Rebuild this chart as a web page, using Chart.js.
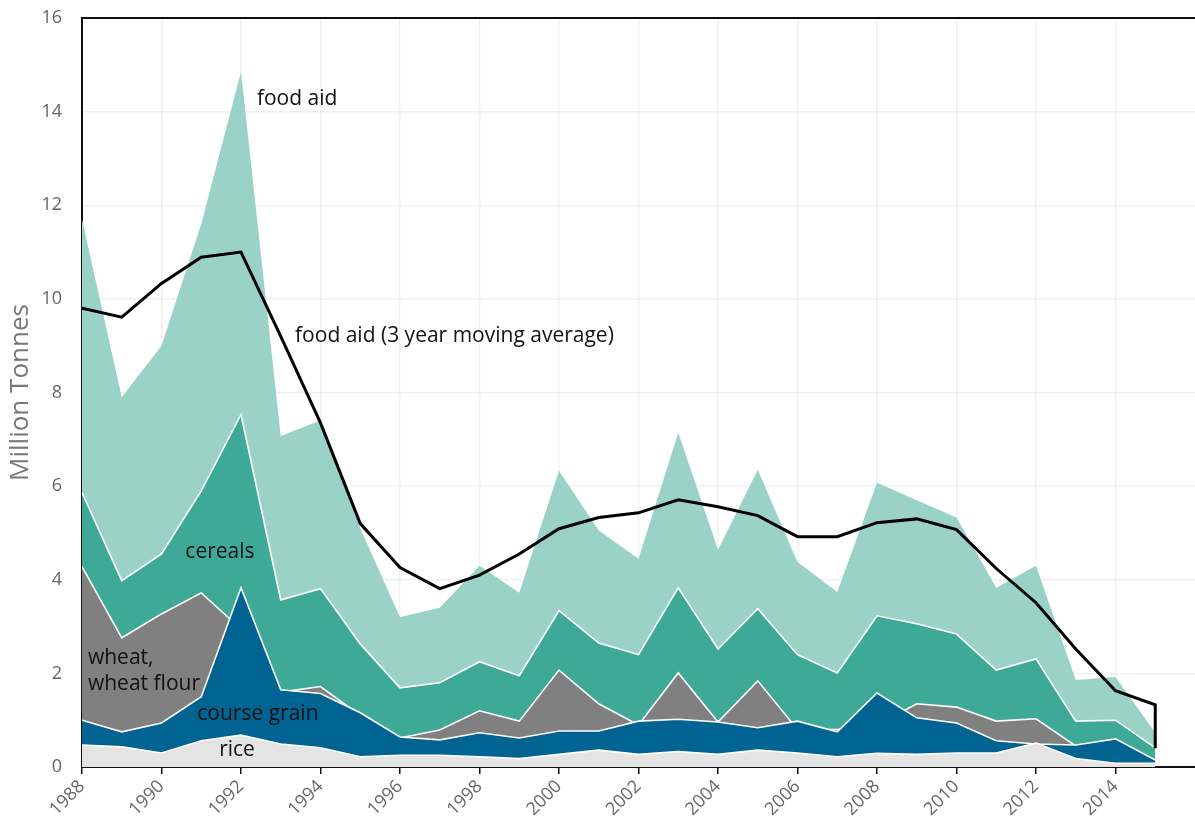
<!DOCTYPE html>
<html>
<head>
<meta charset="utf-8">
<script src="https://cdn.jsdelivr.net/npm/chart.js@4"></script>
<style>
  html, body { margin: 0; padding: 0; background: #fff; }
  #wrap { width: 1195px; height: 818px; }
</style>
</head>
<body>
<div id="wrap"><canvas id="c" width="1195" height="818"></canvas></div>
<script>
const years = [1988,1989,1990,1991,1992,1993,1994,1995,1996,1997,1998,1999,2000,2001,2002,2003,2004,2005,2006,2007,2008,2009,2010,2011,2012,2013,2014,2015];
const foodAid = [11.7,7.9,9.0,11.6,14.85,7.07,7.4,5.1,3.2,3.4,4.3,3.72,6.33,5.05,4.45,7.14,4.64,6.35,4.38,3.74,6.07,5.7,5.33,3.83,4.3,1.86,1.92,0.73];
const cereals = [5.86,3.98,4.55,5.9,7.53,3.57,3.81,2.63,1.69,1.8,2.25,1.95,3.34,2.65,2.4,3.83,2.52,3.38,2.4,2.01,3.23,3.06,2.84,2.07,2.31,0.98,1.0,0.41];
const wheat = [4.28,2.76,3.27,3.72,2.95,1.6,1.72,1.1,0.62,0.79,1.2,0.98,2.07,1.35,0.9,2.01,0.96,1.84,0.8,0.8,0.9,1.35,1.28,0.98,1.03,0.45,0.4,0.1];
const courseGrain = [1.0,0.75,0.94,1.5,3.83,1.65,1.57,1.16,0.64,0.58,0.73,0.62,0.77,0.77,0.98,1.02,0.96,0.84,0.98,0.75,1.58,1.05,0.94,0.56,0.49,0.47,0.6,0.15];
const rice = [0.47,0.43,0.3,0.56,0.68,0.49,0.41,0.22,0.25,0.25,0.22,0.18,0.27,0.36,0.27,0.33,0.27,0.36,0.3,0.22,0.29,0.27,0.3,0.3,0.51,0.18,0.08,0.08];
const movingAvg = [9.8,9.61,10.33,10.89,11.0,9.2,7.35,5.2,4.26,3.81,4.1,4.55,5.09,5.33,5.43,5.71,5.56,5.37,4.92,4.92,5.22,5.3,5.07,4.24,3.51,2.52,1.63,1.33];
const movingAvgEndYear = 2015;
const movingAvgEndValue = 0.4;
const xTickYears = [1988,1990,1992,1994,1996,1998,2000,2002,2004,2006,2008,2010,2012,2014];
const xTickLabels = ['1988','1990','1992','1994','1996','1998','2000','2002','2004','2006','2008','2010','2012','2014'];
const yTicks = [0,2,4,6,8,10,12,14,16];

const pts = arr => years.map((y, i) => ({x: y, y: arr[i]}));
const maPts = pts(movingAvg).concat([{x: movingAvgEndYear, y: movingAvgEndValue}]);

const labels = [
  {text: 'food aid', x: 1992.4, y: 14.27},
  {text: 'food aid (3 year moving average)', x: 1993.36, y: 9.2},
  {text: 'cereals', x: 1990.6, y: 4.6},
  {text: 'wheat,', x: 1988.15, y: 2.33},
  {text: 'wheat flour', x: 1988.15, y: 1.78},
  {text: 'course grain', x: 1990.9, y: 1.13},
  {text: 'rice', x: 1991.45, y: 0.36}
];

const FONT = '"Open Sans", "Noto Sans", sans-serif';

const annot = {
  id: 'annot',
  afterDatasetsDraw(chart) {
    const {ctx, scales: {x, y}} = chart;
    ctx.save();
    ctx.font = '21px ' + FONT;
    ctx.fillStyle = '#111';
    ctx.textAlign = 'left';
    ctx.textBaseline = 'middle';
    labels.forEach(l => ctx.fillText(l.text, x.getPixelForValue(l.x), y.getPixelForValue(l.y)));
    ctx.restore();
  },
  afterDraw(chart) {
    const {ctx, chartArea} = chart;
    ctx.save();
    ctx.strokeStyle = '#111';
    ctx.lineWidth = 2;
    ctx.beginPath();
    ctx.moveTo(chartArea.left - 1, chartArea.top);
    ctx.lineTo(chartArea.right, chartArea.top);
    ctx.stroke();
    ctx.restore();
  }
};

const area = (label, data, color, order, border) => ({
  label, data: pts(data), backgroundColor: color, fill: 'origin',
  borderColor: border ? '#ffffff' : color, borderWidth: border ? 1.6 : 0,
  pointRadius: 0, tension: 0, order
});

new Chart(document.getElementById('c'), {
  type: 'line',
  data: {
    datasets: [
      {label: 'food aid (3 year moving average)', data: maPts, borderColor: '#000', borderWidth: 3,
       fill: false, pointRadius: 0, tension: 0, order: 0, borderJoinStyle: 'miter'},
      area('rice', rice, '#e4e4e4', 1, true),
      area('course grain', courseGrain, '#006391', 2, true),
      area('wheat, wheat flour', wheat, '#808080', 3, true),
      area('cereals', cereals, '#3fa998', 4, true),
      area('food aid', foodAid, '#9bd2c8', 5, false)
    ]
  },
  options: {
    responsive: false,
    animation: false,
    events: [],
    layout: {padding: {top: 18, right: 0, left: 0, bottom: 0}},
    plugins: {legend: {display: false}, tooltip: {enabled: false}},
    scales: {
      x: {
        type: 'linear', min: 1988, max: 2016, z: 1,
        afterBuildTicks: s => { s.ticks = xTickYears.map(v => ({value: v})); },
        afterFit: s => { s.height = 51; s.paddingLeft = 0; s.paddingRight = 0; },
        ticks: {
          callback: (v) => xTickLabels[xTickYears.indexOf(v)],
          minRotation: 45, maxRotation: 45, autoSkip: false,
          color: '#666', font: {family: FONT, size: 18}, padding: 2
        },
        grid: {color: 'rgba(0,0,0,0.06)', lineWidth: 1.5, tickColor: '#111', tickLength: 7, tickWidth: 1.5},
        border: {color: '#111', width: 2}
      },
      y: {
        min: 0, max: 16, z: 1,
        afterBuildTicks: s => { s.ticks = yTicks.map(v => ({value: v})); },
        afterFit: s => { s.width = 82; s.paddingTop = 0; s.paddingBottom = 0; },
        ticks: {color: '#666', font: {family: FONT, size: 18}, padding: 20, callback: v => String(v)},
        grid: {color: 'rgba(0,0,0,0.06)', lineWidth: 1.5, drawTicks: false},
        border: {color: '#111', width: 2},
        title: {display: true, text: 'Million Tonnes', color: '#777', font: {family: FONT, size: 26}, padding: {top: 5, bottom: 0}}
      }
    }
  },
  plugins: [annot]
});
</script>
</body>
</html>
